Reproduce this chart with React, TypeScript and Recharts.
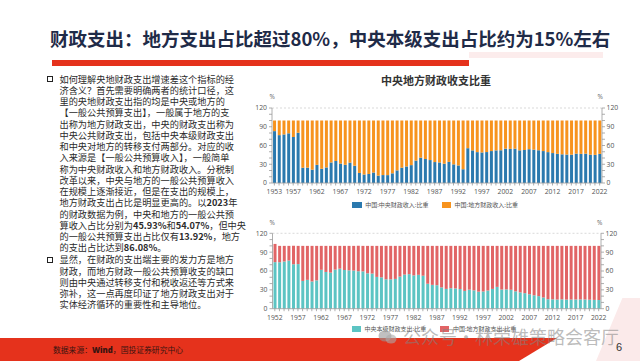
import React from 'react';
import { BarChart, Bar, XAxis, YAxis, ReferenceLine } from 'recharts';

// ---------- data ----------
const revenueYears: number[] = Array.from({ length: 70 }, (_, i) => 1953 + i);
const centralRevenueShare: number[] = [
  83.0, 76.6, 77.7, 79.5, 73.5, 80.4, 24.4, 24.6, 21.3, 29.0,
  22.8, 24.9, 32.9, 35.2, 31.1, 29.1, 32.6, 27.6, 16.1, 13.6,
  14.4, 16.8, 11.8, 12.7, 12.6, 15.5, 20.2, 24.5, 26.5, 28.6,
  35.8, 40.5, 38.4, 36.7, 33.5, 32.9, 30.9, 33.8, 29.8, 28.1,
  22.0, 55.7, 52.2, 49.4, 48.9, 49.5, 51.1, 52.2, 52.4, 55.0,
  54.6, 54.9, 52.3, 52.8, 54.1, 53.3, 52.4, 51.1, 49.4, 47.9,
  46.6, 45.9, 45.5, 45.3, 47.0, 46.6, 46.9, 45.3, 45.0, 46.6,
];
const localRevenueShare: number[] = [
  17.0, 23.4, 22.3, 20.5, 26.5, 19.6, 75.6, 75.4, 78.7, 71.0,
  77.2, 75.1, 67.1, 64.8, 68.9, 70.9, 67.4, 72.4, 83.9, 86.4,
  85.6, 83.2, 88.2, 87.3, 87.4, 84.5, 79.8, 75.5, 73.5, 71.4,
  64.2, 59.5, 61.6, 63.3, 66.5, 67.1, 69.1, 66.2, 70.2, 71.9,
  78.0, 44.3, 47.8, 50.6, 51.1, 50.5, 48.9, 47.8, 47.6, 45.0,
  45.4, 45.1, 47.7, 47.2, 45.9, 46.7, 47.6, 48.9, 50.6, 52.1,
  53.4, 54.1, 54.5, 54.7, 53.0, 53.4, 53.1, 54.7, 55.0, 53.4,
];
const revenueTickYears: number[] = [1953, 1957, 1962, 1967, 1972, 1977, 1982, 1987, 1992, 1997, 2002, 2007, 2012, 2017, 2022];

const expenditureYears: number[] = Array.from({ length: 71 }, (_, i) => 1952 + i);
const centralExpenditureShare: number[] = [
  74.1,
  73.9, 75.1, 76.6, 70.7, 71.0, 44.2, 45.9, 43.3, 45.1, 61.9,
  58.5, 57.4, 62.2, 63.7, 61.6, 61.0, 60.7, 59.6, 59.4, 56.3,
  55.9, 50.6, 49.9, 46.8, 46.7, 47.4, 51.1, 54.3, 55.0, 53.0,
  53.9, 52.5, 39.7, 37.9, 37.4, 33.9, 31.5, 32.6, 32.2, 31.3,
  28.3, 30.3, 29.2, 27.1, 27.4, 28.9, 31.5, 34.7, 30.5, 30.7,
  30.1, 27.7, 25.9, 24.7, 23.0, 21.3, 20.0, 17.8, 15.1, 14.9,
  14.6, 14.9, 14.5, 14.6, 14.7, 14.8, 14.7, 14.3, 14.0, 13.8,
];
const localExpenditureShare: number[] = [
  29.0,
  26.1, 24.9, 23.4, 29.3, 29.0, 55.8, 54.1, 56.7, 54.9, 38.1,
  41.5, 42.6, 37.8, 36.3, 38.4, 39.0, 39.3, 40.4, 40.6, 43.7,
  44.1, 49.4, 50.1, 53.2, 53.3, 52.6, 48.9, 45.7, 45.0, 47.0,
  46.1, 47.5, 60.3, 62.1, 62.6, 66.1, 68.5, 67.4, 67.8, 68.7,
  71.7, 69.7, 70.8, 72.9, 72.6, 71.1, 68.5, 65.3, 69.5, 69.3,
  69.9, 72.3, 74.1, 75.3, 77.0, 78.7, 80.0, 82.2, 84.9, 85.1,
  85.4, 85.1, 85.5, 85.4, 85.3, 85.2, 85.3, 85.7, 86.0, 86.2,
];
const expenditureTickYears: number[] = [1952, 1957, 1962, 1967, 1972, 1977, 1982, 1987, 1992, 1997, 2002, 2007, 2012, 2017, 2022];

const yTicks: number[] = [0, 10, 20, 30, 40, 50, 60, 70, 80, 90, 100, 110, 120];
const yLabelTicks: number[] = [0, 30, 60, 90, 120];

const revenueData = revenueYears.map((year, i) => ({
  year,
  central: centralRevenueShare[i],
  local: localRevenueShare[i],
}));
const expenditureData = expenditureYears.map((year, i) => ({
  year,
  central: centralExpenditureShare[i],
  local: localExpenditureShare[i],
}));

const bodyLines: string[] = [
  '如何理解央地财政支出增速差这个指标的经',
  '济含义？首先需要明确两者的统计口径，这',
  '里的央地财政支出指的均是中央或地方的',
  '【一般公共预算支出】，一般属于地方的支',
  '出称为地方财政支出，中央的财政支出称为',
  '中央公共财政支出，包括中央本级财政支出',
  '和中央对地方的转移支付两部分。对应的收',
  '入来源是【一般公共预算收入】，一般简单',
  '称为中央财政收入和地方财政收入。分税制',
  '改革以来，中央与地方的一般公共预算收入',
  '在规模上逐渐接近，但是在支出的规模上，',
  '地方财政支出占比是明显更高的。以**2023**年',
  '的财政数据为例，中央和地方的一般公共预',
  '算收入占比分别为**45.93%**和**54.07%**，但中央',
  '的一般公共预算支出占比仅有**13.92%**，地方',
  '的支出占比达到**86.08%**。',
  '显然，在财政的支出端主要的发力方是地方',
  '财政，而地方财政一般公共预算收支的缺口',
  '则由中央通过转移支付和税收返还等方式来',
  '弥补，这一点再度印证了地方财政支出对于',
  '实体经济循环的重要性和主导地位。',
];

const CJK = '"Noto Sans CJK SC", "Noto Sans", sans-serif';
const TICKFONT = '"Open Sans", "Noto Sans", sans-serif';

// ---------- ticks ----------
const makeXTick = (labels: number[]) => (props: any) => {
  const { x, y, payload } = props;
  const show = labels.includes(Number(payload.value));
  return (
    <g>
      <line x1={x} x2={x} y1={y} y2={y + 2.5} stroke="#9a9a9a" strokeWidth={0.8} />
      {show && (
        <text x={x} y={y + 8.3} textAnchor="middle" dominantBaseline="central" fontSize={6.8} fontFamily={TICKFONT} fill="#555">
          {payload.value}
        </text>
      )}
    </g>
  );
};

const yFormatter = (v: any) => (yLabelTicks.includes(Number(v)) ? String(v) : '');

const renderLine = (s: string) => {
  const parts = s.split('**');
  return parts.map((p, i) => (i % 2 === 1 ? <b key={i} style={{ fontWeight: 700 }}>{p}</b> : <span key={i}>{p}</span>));
};

interface StackChartProps {
  data: any[];
  top: number;
  marginTop: number;
  marginBottom: number;
  marginLeft: number;
  marginRight: number;
  centralColor: string;
  localColor: string;
  tickYears: number[];
}

const StackChart = ({ data, top, marginTop, marginBottom, marginLeft, marginRight, centralColor, localColor, tickYears }: StackChartProps) => (
  <div style={{ position: 'absolute', left: 230, top, width: 410, height: 120 }}>
    <BarChart
      width={410}
      height={120}
      data={data}
      margin={{ top: marginTop, right: marginRight, bottom: marginBottom, left: marginLeft }}
      barCategoryGap="22%"
    >
      <XAxis
        dataKey="year"
        interval={0}
        tickSize={0}
        tickMargin={0}
        height={20}
        axisLine={{ stroke: '#9a9a9a', strokeWidth: 0.8 }}
        tickLine={false}
        tick={makeXTick(tickYears)}
      />
      <YAxis
        yAxisId="left"
        orientation="left"
        type="number"
        domain={[0, 120]}
        ticks={yTicks}
        interval={0}
        width={30}
        tickSize={3}
        tickMargin={2}
        tickLine={{ stroke: '#9a9a9a', strokeWidth: 0.8 }}
        axisLine={{ stroke: '#9a9a9a', strokeWidth: 0.8 }}
        tick={{ fontSize: 6.8, fill: '#555', fontFamily: TICKFONT }}
        tickFormatter={yFormatter}
      />
      <YAxis
        yAxisId="right"
        orientation="right"
        type="number"
        domain={[0, 120]}
        ticks={yTicks}
        interval={0}
        width={30}
        includeHidden
        tickSize={3}
        tickMargin={1.5}
        tickLine={{ stroke: '#9a9a9a', strokeWidth: 0.8 }}
        axisLine={{ stroke: '#9a9a9a', strokeWidth: 0.8 }}
        tick={{ fontSize: 6.8, fill: '#555', fontFamily: TICKFONT }}
        tickFormatter={yFormatter}
      />
      <ReferenceLine yAxisId="left" y={120} stroke="#cfcfcf" strokeDasharray="2 2" strokeWidth={0.8} />
      <Bar yAxisId="left" dataKey="central" stackId="s" fill={centralColor} isAnimationActive={false} />
      <Bar yAxisId="left" dataKey="local" stackId="s" fill={localColor} isAnimationActive={false} />
      <Bar yAxisId="right" dataKey="central" hide isAnimationActive={false} />
    </BarChart>
  </div>
);

const LegendItem = ({ left, top, color, label }: { left: number; top: number; color: string; label: string }) => (
  <div style={{ position: 'absolute', left, top, height: 8, display: 'flex', alignItems: 'center', whiteSpace: 'nowrap' }}>
    <div style={{ width: 9.4, height: 6, background: color, marginRight: 3.5 }} />
    <span style={{ fontFamily: CJK, fontSize: 6, color: '#555', lineHeight: '8px' }}>{label}</span>
  </div>
);

export default function App() {
  const lineH = 11.25;
  return (
    <div
      style={{
        position: 'fixed',
        left: 0,
        top: 0,
        width: 640,
        height: 361,
        background: '#ffffff',
        overflow: 'hidden',
        fontFamily: CJK,
      }}
    >
      {/* slide title */}
      <div
        style={{
          position: 'absolute',
          left: 50,
          top: 27.5,
          fontSize: 18.5,
          lineHeight: '20px',
          fontWeight: 700,
          color: '#1f2b48',
          whiteSpace: 'nowrap',
        }}
      >
        财政支出：地方支出占比超过80%，中央本级支出占比约为15%左右
      </div>
      <div style={{ position: 'absolute', left: 52, top: 60, width: 417, height: 6, background: '#e5321c' }} />
      <div style={{ position: 'absolute', left: 469, top: 52, width: 134, height: 6, background: '#fcecec' }} />

      {/* body text */}
      <div style={{ position: 'absolute', left: 47, top: 76.3, width: 6, height: 6, border: '1.5px solid #222', boxSizing: 'border-box' }} />
      <div style={{ position: 'absolute', left: 47, top: 76.3 + 16 * lineH + 0.7, width: 6, height: 6, border: '1.5px solid #222', boxSizing: 'border-box' }} />
      {bodyLines.map((ln, i) => (
        <div
          key={i}
          style={{
            position: 'absolute',
            left: 59.5,
            top: 79.3 - lineH / 2 + i * lineH + (i >= 16 ? 0.7 : 0),
            fontSize: 9.2,
            lineHeight: `${lineH}px`,
            color: '#2b2b2b',
            whiteSpace: 'nowrap',
          }}
        >
          {renderLine(ln)}
        </div>
      ))}

      {/* chart title */}
      <div
        style={{
          position: 'absolute',
          left: 336,
          width: 200,
          top: 74,
          textAlign: 'center',
          fontSize: 11,
          lineHeight: '13px',
          fontWeight: 700,
          color: '#333',
        }}
      >
        中央地方财政收支比重
      </div>

      {/* % labels */}
      <div style={{ position: 'absolute', left: 269.5, top: 92.5, fontSize: 6.5, color: '#666', fontFamily: TICKFONT, lineHeight: '8px' }}>%</div>
      <div style={{ position: 'absolute', left: 597.5, top: 92.5, fontSize: 6.5, color: '#666', fontFamily: TICKFONT, lineHeight: '8px' }}>%</div>
      <div style={{ position: 'absolute', left: 269.5, top: 218.5, fontSize: 6.5, color: '#666', fontFamily: TICKFONT, lineHeight: '8px' }}>%</div>
      <div style={{ position: 'absolute', left: 597, top: 218.5, fontSize: 6.5, color: '#666', fontFamily: TICKFONT, lineHeight: '8px' }}>%</div>

      <StackChart
        data={revenueData}
        top={90}
        marginTop={18}
        marginBottom={7}
        marginLeft={12}
        marginRight={8}
        centralColor="#2b79ae"
        localColor="#f7931e"
        tickYears={revenueTickYears}
      />
      <LegendItem left={352.3} top={200.5} color="#2b79ae" label="中国:中央财政收入:比重" />
      <LegendItem left={441.7} top={200.5} color="#f7931e" label="中国:地方财政收入:比重" />

      <StackChart
        data={expenditureData}
        top={215}
        marginTop={18.3}
        marginBottom={6.3}
        marginLeft={12.5}
        marginRight={9}
        centralColor="#5cc4c3"
        localColor="#e16465"
        tickYears={expenditureTickYears}
      />
      <LegendItem left={351.7} top={325} color="#5cc4c3" label="中央本级财政支出:比重" />
      <LegendItem left={440} top={325} color="#e16465" label="中国:地方财政支出:比重" />

      {/* bottom band */}
      <div
        style={{
          position: 'absolute',
          left: 0,
          top: 338,
          width: 557,
          height: 23,
          background: '#e5321c',
          clipPath: 'polygon(0 0, 100% 0, calc(100% - 38px) 100%, 0 100%)',
        }}
      />
      <div
        style={{
          position: 'absolute',
          left: 596,
          top: 298,
          width: 44,
          height: 63,
          background: '#fbeaea',
          clipPath: 'polygon(60% 0, 100% 0, 100% 100%, 0 100%)',
        }}
      />
      <div
        style={{
          position: 'absolute',
          left: 53,
          top: 345,
          fontSize: 7.8,
          lineHeight: '10px',
          color: '#3a1410',
          whiteSpace: 'nowrap',
        }}
      >
        数据来源：<b style={{ fontFamily: TICKFONT, fontWeight: 800 }}>Wind</b>，国投证券研究中心
      </div>

      {/* watermark */}
      <svg style={{ position: 'absolute', left: 378, top: 329 }} width={20} height={16}>
        <ellipse cx={7} cy={7} rx={6.5} ry={5.5} fill="rgba(150,150,150,0.6)" />
        <ellipse cx={13} cy={10} rx={5.5} ry={4.6} fill="rgba(170,170,170,0.6)" />
      </svg>
      <div
        style={{
          position: 'absolute',
          left: 403,
          top: 327,
          fontSize: 18,
          lineHeight: '18px',
          color: 'rgba(130,130,130,0.55)',
          whiteSpace: 'nowrap',
        }}
      >
        公众号・林荣雄策略会客厅
      </div>

      <div
        style={{
          position: 'absolute',
          left: 616,
          top: 340,
          fontSize: 11,
          lineHeight: '14px',
          color: '#333',
          fontFamily: '"Liberation Sans", Arial, sans-serif',
        }}
      >
        6
      </div>
    </div>
  );
}
